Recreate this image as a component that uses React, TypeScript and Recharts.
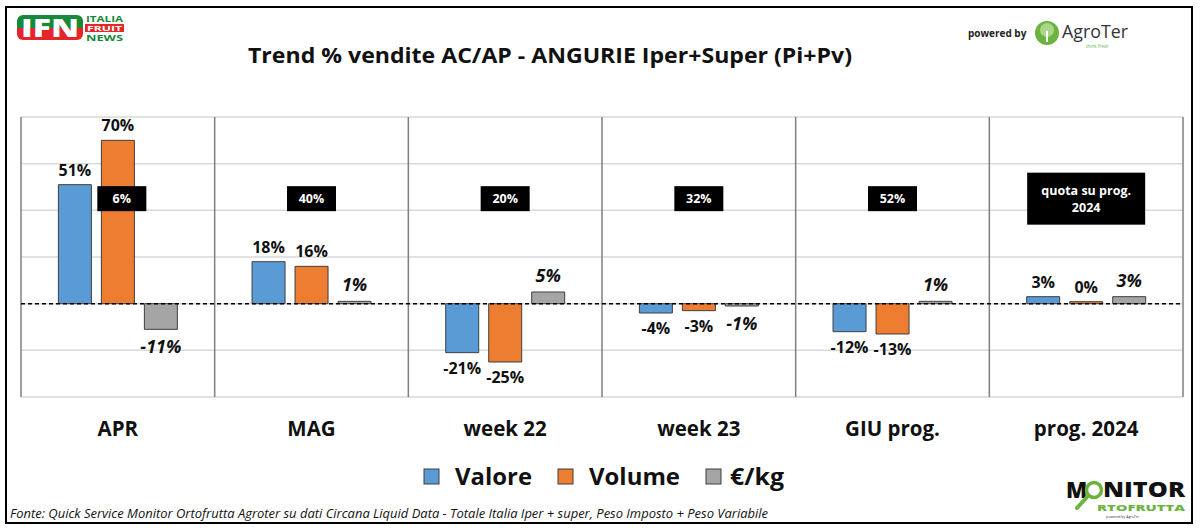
import React from 'react';
import {
  ComposedChart,
  Bar,
  XAxis,
  YAxis,
  CartesianGrid,
  ReferenceLine,
  ReferenceDot,
  LabelList,
  Legend,
} from 'recharts';

// ---------- data ----------
const categories = ['APR', 'MAG', 'week 22', 'week 23', 'GIU prog.', 'prog. 2024'];
const valore = [51, 18, -21, -4, -12, 3];
const volume = [70, 16, -25, -3, -13, 0];
const euroKg = [-11, 1, 5, -1, 1, 3];
const quota = ['6%', '40%', '20%', '32%', '52%', 'quota su prog.|2024'];
const yTicks = [-40, -20, 0, 20, 40, 60, 80];
const seriesNames = ['Valore', 'Volume', '€/kg'];
const title = 'Trend % vendite AC/AP - ANGURIE Iper+Super (Pi+Pv)';
const footer =
  'Fonte: Quick Service Monitor Ortofrutta Agroter su dati Circana Liquid Data - Totale Italia Iper + super, Peso Imposto + Peso Variabile';

const data = categories.map((c, i) => ({
  cat: c,
  valore: valore[i],
  volume: volume[i],
  euro: euroKg[i],
}));

const FONT = '"Open Sans", "DejaVu Sans", sans-serif';
const COLORS = ['#5B9BD5', '#ED7D31', '#A5A5A5'];
const BAR_STROKE = '#3F3F3F';

const makeLabel = (italic: boolean, size: number, gap: number) => (props: any) => {
  const { x, y, width, height, value } = props;
  const top = Math.min(y, y + height);
  const bottom = Math.max(y, y + height);
  const neg = Number(value) < 0;
  const cy = neg ? bottom + gap : top - gap;
  return (
    <text
      x={x + width / 2}
      y={cy}
      textAnchor="middle"
      dominantBaseline="central"
      fontFamily={FONT}
      fontWeight={700}
      fontStyle={italic ? 'italic' : 'normal'}
      fontSize={size}
      fill="#111"
    >
      {`${value}%`}
    </text>
  );
};

const QuotaBox = (props: any) => {
  const { cx, cy, text } = props;
  const lines = String(text).split('|');
  if (lines.length > 1) {
    const w = 118;
    const h = 52;
    return (
      <g>
        <rect x={cx - w / 2} y={cy - h / 2} width={w} height={h} fill="#000" />
        {lines.map((l, i) => (
          <text
            key={i}
            x={cx}
            y={cy + (i - 0.5) * 17}
            textAnchor="middle"
            dominantBaseline="central"
            fontFamily={FONT}
            fontWeight={700}
            fontSize={12.5}
            fill="#fff"
          >
            {l}
          </text>
        ))}
      </g>
    );
  }
  const w = 49;
  const h = 25;
  return (
    <g>
      <rect x={cx - w / 2} y={cy - h / 2} width={w} height={h} fill="#000" />
      <text
        x={cx}
        y={cy}
        textAnchor="middle"
        dominantBaseline="central"
        fontFamily={FONT}
        fontWeight={700}
        fontSize={12.5}
        fill="#fff"
      >
        {text}
      </text>
    </g>
  );
};

const XTick = (props: any) => {
  const { x, y, payload } = props;
  return (
    <text
      x={x}
      y={y + 39}
      textAnchor="middle"
      fontFamily={FONT}
      fontWeight={700}
      fontSize={20.5}
      fill="#111"
    >
      {payload.value}
    </text>
  );
};

const legendLayout = [
  { sq: 424, tx: 455, tw: 77 },
  { sq: 558, tx: 589, tw: 91 },
  { sq: 706, tx: 730, tw: 54 },
];

const LegendContent = (props: any) => {
  const payload = props.payload || [];
  return (
    <svg width={1200} height={34} style={{ display: 'block' }}>
      {payload.map((p: any, i: number) => {
        const L = legendLayout[i] || legendLayout[0];
        return (
          <g key={i}>
            <rect
              x={L.sq}
              y={10}
              width={15}
              height={15}
              fill={p.color}
              stroke={BAR_STROKE}
              strokeWidth={1}
            />
            <text
              x={L.tx}
              y={26}
              fontFamily={FONT}
              fontWeight={700}
              fontSize={23}
              fill="#111"
              textLength={L.tw}
              lengthAdjust="spacingAndGlyphs"
            >
              {p.value}
            </text>
          </g>
        );
      })}
    </svg>
  );
};

const dividerGen = ({ offset }: any) => {
  const n = categories.length;
  const out: number[] = [];
  for (let i = 0; i <= n; i++) out.push(offset.left + (offset.width * i) / n);
  return out;
};

const Overlay = () => (
  <svg
    width={1200}
    height={531}
    style={{ position: 'absolute', left: 0, top: 0, pointerEvents: 'none' }}
  >
    {/* frame */}
    <rect x={6} y={7} width={1186} height={516} fill="none" stroke="#000" strokeWidth={2} />
    {/* title */}
    <text
      x={248}
      y={63}
      fontFamily={FONT}
      fontWeight={700}
      fontSize={22}
      fill="#111"
      textLength={604}
      lengthAdjust="spacingAndGlyphs"
    >
      {title}
    </text>
    {/* footer */}
    <text
      x={10}
      y={518}
      fontFamily={FONT}
      fontStyle="italic"
      fontSize={13}
      fill="#111"
      textLength={758}
      lengthAdjust="spacingAndGlyphs"
    >
      {footer}
    </text>
    {/* IFN logo */}
    <defs>
      <clipPath id="ifnclip">
        <rect x={17} y={15} width={66} height={25} rx={6} />
      </clipPath>
    </defs>
    <g clipPath="url(#ifnclip)">
      <rect x={17} y={15} width={66} height={13} fill="#17893B" />
      <rect x={17} y={28} width={66} height={12} fill="#E4262A" />
    </g>
    <text
      x={21}
      y={37}
      fontFamily={FONT}
      fontWeight={800}
      fontSize={24}
      fill="#fff"
      textLength={58}
      lengthAdjust="spacingAndGlyphs"
    >
      IFN
    </text>
    <text x={86} y={22} fontFamily={FONT} fontWeight={700} fontSize={8} fill="#17893B" textLength={37} lengthAdjust="spacingAndGlyphs">
      ITALIA
    </text>
    <rect x={85} y={24} width={39} height={8} fill="#E4262A" />
    <text x={87} y={31} fontFamily={FONT} fontWeight={700} fontSize={7.5} fill="#fff" textLength={35} lengthAdjust="spacingAndGlyphs">
      FRUIT
    </text>
    <text x={86} y={41} fontFamily={FONT} fontWeight={700} fontSize={8} fill="#17893B" textLength={37} lengthAdjust="spacingAndGlyphs">
      NEWS
    </text>
    {/* AgroTer logo */}
    <text x={968} y={37} fontFamily={FONT} fontWeight={700} fontSize={10} fill="#222">
      powered by
    </text>
    <circle cx={1047} cy={33} r={12} fill="#6DB33F" />
    <circle cx={1047} cy={30} r={7} fill="#A9D68A" />
    <line x1={1047} y1={31} x2={1047} y2={42} stroke="#fff" strokeWidth={2} />
    <text x={1062} y={38} fontFamily={FONT} fontSize={18} fill="#333" textLength={66} lengthAdjust="spacingAndGlyphs">
      AgroTer
    </text>
    <text x={1086} y={48} fontFamily={FONT} fontSize={4.5} fill="#6DB33F">
      think fresh
    </text>
    {/* MONITOR ORTOFRUTTA logo */}
    <text x={1066} y={498} fontFamily={FONT} fontWeight={800} fontSize={22} fill="#111">
      M
    </text>
    <circle cx={1094} cy={490} r={7.5} fill="none" stroke="#6DB33F" strokeWidth={3.5} />
    <line x1={1088} y1={496} x2={1077} y2={508} stroke="#6DB33F" strokeWidth={4} strokeLinecap="round" />
    <text x={1103} y={497} fontFamily={FONT} fontWeight={800} fontSize={21} fill="#111" textLength={82} lengthAdjust="spacingAndGlyphs">
      NITOR
    </text>
    <text x={1097} y={511} fontFamily={FONT} fontWeight={800} fontSize={9.5} fill="#6DB33F" textLength={88} lengthAdjust="spacingAndGlyphs">
      RTOFRUTTA
    </text>
    <text x={1106} y={518} fontFamily={FONT} fontSize={3.5} fill="#333">
      powered by AgroTer
    </text>
  </svg>
);

export default function App() {
  return (
    <div
      style={{
        position: 'absolute',
        left: 0,
        top: 0,
        width: 1200,
        height: 531,
        background: '#fff',
        fontFamily: FONT,
      }}
    >
      <ComposedChart
        width={1200}
        height={531}
        data={data}
        margin={{ top: 117, right: 17, left: 21, bottom: 38 }}
        barCategoryGap="19.3%"
        barGap={10}
      >
        <CartesianGrid vertical={false} stroke="#D9D9D9" strokeWidth={1.5} />
        <CartesianGrid
          horizontal={false}
          verticalCoordinatesGenerator={dividerGen}
          stroke="#7F7F7F"
          strokeWidth={1.5}
        />
        <XAxis
          dataKey="cat"
          height={62}
          axisLine={false}
          tickLine={false}
          tickSize={0}
          tickMargin={0}
          interval={0}
          tick={<XTick />}
        />
        <YAxis hide domain={[-40, 80]} ticks={yTicks} allowDataOverflow />
        <Bar dataKey="valore" name={seriesNames[0]} fill={COLORS[0]} stroke={BAR_STROKE} strokeWidth={1} minPointSize={2} isAnimationActive={false}>
          <LabelList dataKey="valore" content={makeLabel(false, 16, 15)} />
        </Bar>
        <Bar dataKey="volume" name={seriesNames[1]} fill={COLORS[1]} stroke={BAR_STROKE} strokeWidth={1} minPointSize={2} isAnimationActive={false}>
          <LabelList dataKey="volume" content={makeLabel(false, 16, 15)} />
        </Bar>
        <Bar dataKey="euro" name={seriesNames[2]} fill={COLORS[2]} stroke={BAR_STROKE} strokeWidth={1} minPointSize={2} isAnimationActive={false}>
          <LabelList dataKey="euro" content={makeLabel(true, 18, 17)} />
        </Bar>
        <ReferenceLine y={0} stroke="#000" strokeWidth={1.5} strokeDasharray="4 3" />
        {categories.map((c, i) => (
          <ReferenceDot
            key={c}
            x={c}
            y={45}
            r={0}
            ifOverflow="visible"
            shape={(p: any) => <QuotaBox cx={p.cx + (i === 0 ? 4 : 0)} cy={p.cy} text={quota[i]} />}
          />
        ))}
        <Legend
          verticalAlign="bottom"
          align="left"
          height={34}
          wrapperStyle={{ left: 0, width: 1200 }}
          content={<LegendContent />}
        />
      </ComposedChart>
      <Overlay />
    </div>
  );
}
